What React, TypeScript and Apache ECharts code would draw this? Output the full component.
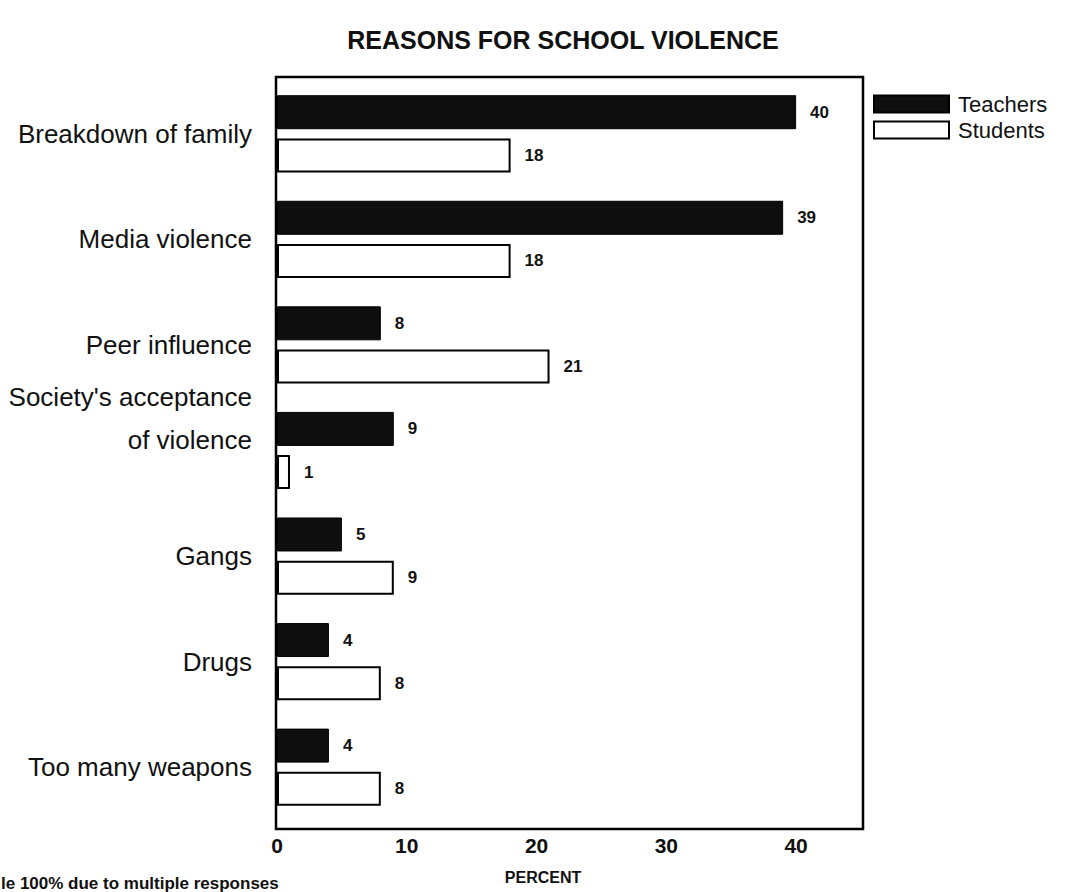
import React, { useEffect, useRef } from "react";
import * as echarts from "echarts";

const categories = [
  "Breakdown of family",
  "Media violence",
  "Peer influence",
  "Society's acceptance of violence",
  "Gangs",
  "Drugs",
  "Too many weapons",
];
const teachers = [40, 39, 8, 9, 5, 4, 4];
const students = [18, 18, 21, 1, 9, 8, 8];
const xTicks = [0, 10, 20, 30, 40];

const FONT = "'Liberation Sans', Arial, sans-serif";

const legendBase = {
  orient: "vertical",
  left: 873,
  itemWidth: 75,
  itemHeight: 17,
  padding: 0,
  icon: "rect",
  textStyle: { fontSize: 22, lineHeight: 22, color: "#111", padding: [0, 0, 0, 4], fontFamily: FONT },
};

export default function App() {
  const ref = useRef<HTMLDivElement>(null);
  useEffect(() => {
    if (!ref.current) return;
    const chart = echarts.init(ref.current, null, { renderer: "svg" });
    chart.setOption({
      animation: false,
      backgroundColor: "#ffffff",
      textStyle: { fontFamily: FONT },
      grid: { left: 277, right: 216, top: 81, bottom: 72, containLabel: false },
      legend: [
        { ...legendBase, top: 93, data: ["Teachers"] },
        { ...legendBase, top: 119, data: ["Students"] },
      ],
      xAxis: {
        type: "value",
        min: 0,
        max: 45,
        interval: 10,
        axisLine: { show: false },
        axisTick: { show: false },
        splitLine: { show: false },
        axisLabel: {
          margin: 15,
          fontSize: 21,
          fontWeight: "bold",
          color: "#111",
          fontFamily: FONT,
          formatter: (v: number) => (xTicks.indexOf(v) >= 0 ? String(v) : ""),
        },
      },
      yAxis: {
        type: "category",
        inverse: true,
        data: categories,
        axisLine: { show: false },
        axisTick: { show: false },
        axisLabel: {
          margin: 25,
          fontSize: 26,
          color: "#111",
          fontFamily: FONT,
          formatter: (v: string) => {
            if (v === "Society's acceptance of violence") {
              return "{s|Society's acceptance}\n{s|of violence}\n{e| }";
            }
            return v;
          },
          rich: {
            s: { fontSize: 26, lineHeight: 43, color: "#111", fontFamily: FONT, align: "right" },
            e: { fontSize: 10, lineHeight: 64 },
          },
        },
      },
      series: [
        {
          name: "Teachers",
          type: "bar",
          data: teachers,
          barWidth: 34,
          barGap: "27%",
          itemStyle: { color: "#0e0e0e", borderColor: "#000", borderWidth: 1 },
          label: {
            show: true,
            position: "right",
            distance: 14,
            fontSize: 17,
            fontWeight: "bold",
            color: "#111",
            fontFamily: FONT,
          },
        },
        {
          name: "Students",
          type: "bar",
          data: students,
          barWidth: 34,
          barGap: "27%",
          itemStyle: { color: "#ffffff", borderColor: "#000", borderWidth: 2 },
          label: {
            show: true,
            position: "right",
            distance: 14,
            fontSize: 17,
            fontWeight: "bold",
            color: "#111",
            fontFamily: FONT,
          },
        },
      ],
      graphic: [
        {
          type: "rect",
          shape: { x: 276, y: 77, width: 587, height: 752 },
          style: { fill: "none", stroke: "#000", lineWidth: 2.5 },
          silent: true,
          z: 10,
        },
        {
          type: "text",
          x: 563,
          y: 40,
          style: {
            text: "REASONS FOR SCHOOL VIOLENCE",
            fontSize: 25,
            fontWeight: "bold",
            fill: "#111",
            fontFamily: FONT,
            textAlign: "center",
            textVerticalAlign: "middle",
          },
        },
        {
          type: "text",
          x: 543,
          y: 877,
          style: {
            text: "PERCENT",
            fontSize: 16,
            fontWeight: "bold",
            fill: "#111",
            fontFamily: FONT,
            textAlign: "center",
            textVerticalAlign: "middle",
          },
        },
        {
          type: "text",
          x: 1,
          y: 883,
          style: {
            text: "le 100% due to multiple responses",
            fontSize: 17,
            fontWeight: "bold",
            fill: "#111",
            fontFamily: FONT,
            textAlign: "left",
            textVerticalAlign: "middle",
          },
        },
      ],
    });
    return () => chart.dispose();
  }, []);
  return (
    <div
      ref={ref}
      style={{ position: "fixed", left: 0, top: 0, width: 1077, height: 892, background: "#fff" }}
    />
  );
}
